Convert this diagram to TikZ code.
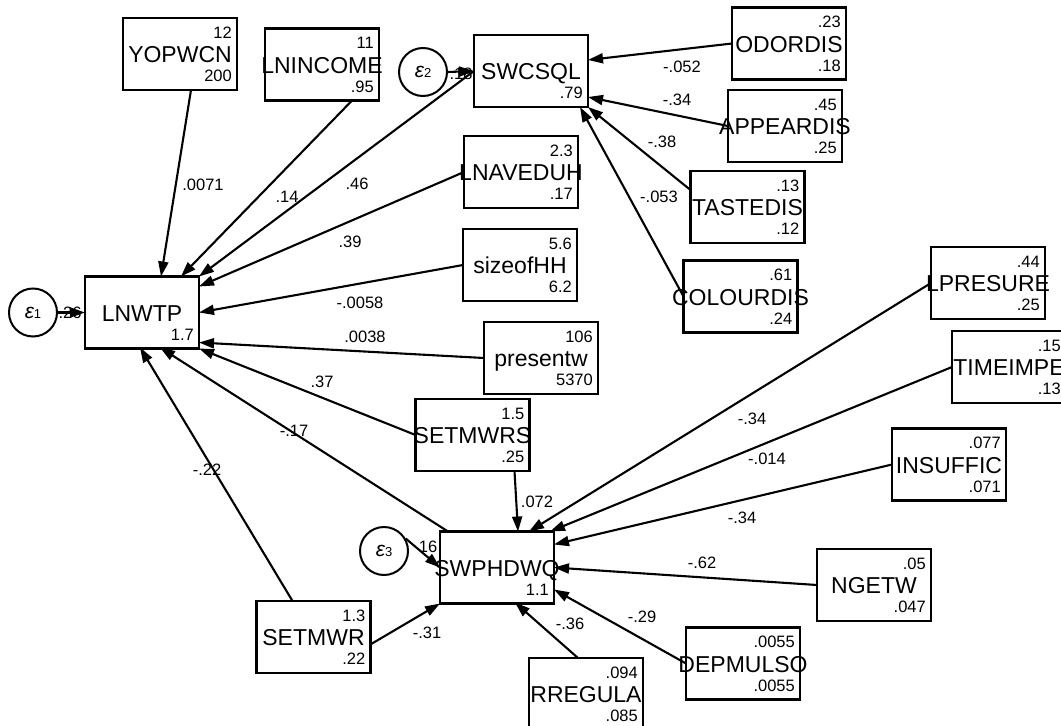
\documentclass[tikz,border=0pt]{standalone}
\usepackage{fontspec}
\setmainfont{Liberation Sans}
\usetikzlibrary{arrows.meta,calc}
\tikzset{
 box/.style={draw, line width=2.3pt, minimum width=114pt, minimum height=72pt, inner sep=0pt, outer sep=0pt},
 lab/.style={font=\fontsize{23}{23}\selectfont, inner sep=0pt, anchor=base},
 num/.style={font=\fontsize{16.5}{16.5}\selectfont, inner sep=0pt, anchor=base east},
 coef/.style={font=\fontsize{16.5}{16.5}\selectfont, inner sep=0pt},
 err/.style={draw, circle, line width=2pt, minimum size=48pt, inner sep=0pt},
 arr/.style={line width=2.1pt, -{Triangle[length=15pt,width=10pt]}},
}
\newcommand\obsbox[6]{%
 \node[box] (#1) at (#2,#3) {};
 \node[lab] (#1-l) at ($(#1.center)+(0,8.5)$) {#4};
 \node[num] (#1-t) at ($(#1.north east)+(-5,20)$) {#5};
 \node[num] (#1-b) at ($(#1.south east)+(-5,-8.5)$) {#6};
}
\newcommand\latbox[5]{%
 \node[box] (#1) at (#2,#3) {};
 \node[lab] (#1-l) at ($(#1.center)+(0,8.5)$) {#4};
 \node[num] (#1-b) at ($(#1.south east)+(-5,-8.5)$) {#5};
}
\newcommand\epsl[1]{{\fontsize{21}{21}\selectfont\itshape ε}{\fontsize{13}{13}\selectfont #1}}
\begin{document}
\begin{tikzpicture}[x=1pt,y=-1pt]
\clip (0,0) rectangle (1061,726);
\fill[white] (0,0) rectangle (1061,726);
% boxes
\obsbox{yop}{180}{54}{YOPWCN}{12}{200}
\obsbox{lninc}{322}{64.5}{LNINCOME}{11}{.95}
\latbox{swcsql}{531}{71}{SWCSQL}{.79}
\obsbox{lnav}{521}{172}{LNAVEDUH}{2.3}{.17}
\obsbox{odor}{789}{43.5}{ODORDIS}{.23}{.18}
\obsbox{appear}{785}{126}{APPEARDIS}{.45}{.25}
\obsbox{taste}{747.5}{207}{TASTEDIS}{.13}{.12}
\obsbox{colour}{740.5}{296.5}{COLOURDIS}{.61}{.24}
\obsbox{lpres}{988}{283}{LPRESURE}{.44}{.25}
\obsbox{timei}{1009}{367}{TIMEIMPE}{.15}{.13}
\obsbox{insuf}{949}{464.5}{INSUFFIC}{.077}{.071}
\obsbox{size}{520}{265}{sizeofHH}{5.6}{6.2}
\obsbox{present}{541}{358}{presentw}{106}{5370}
\obsbox{setmwrs}{472.5}{435}{SETMWRS}{1.5}{.25}
\latbox{lnwtp}{142}{312.5}{LNWTP}{1.7}
\latbox{swph}{497}{567.5}{SWPHDWQ}{1.1}
\obsbox{setmwr}{313.5}{637}{SETMWR}{1.3}{.22}
\obsbox{rreg}{586}{694}{RREGULA}{.094}{.085}
\obsbox{depm}{743}{663.5}{DEPMULSO}{.0055}{.0055}
\obsbox{ngetw}{874}{585}{NGETW}{.05}{.047}
% error terms
\node[err] (e1) at (33,312.5) {\epsl{1}};
\node[err] (e2) at (423,72) {\epsl{2}};
\node[err] (e3) at (384,551) {\epsl{3}};
% paths to LNWTP
\draw[arr] ($(yop.north west)+(68,72)$) -- ($(lnwtp.north west)+(76,0)$);
\draw[arr] ($(lninc.north west)+(88,71)$) -- ($(lnwtp.north west)+(96,0)$);
\draw[arr] (swcsql.west) -- (lnwtp.north east);
\draw[arr] (lnav.west) -- ($(lnwtp.north west)+(114,10)$);
\draw[arr] (size.west) -- (lnwtp.east);
\draw[arr] (present.west) -- ($(lnwtp.north west)+(114,66)$);
\draw[arr] (setmwrs.west) -- (lnwtp.south east);
\draw[arr] ($(swph.north west)+(8,0)$) -- ($(lnwtp.north west)+(75,71)$);
\draw[arr] ($(setmwr.north west)+(36,0)$) -- ($(lnwtp.north west)+(55,71)$);
\draw[arr] (e1.east) -- (lnwtp.west);
% paths to SWCSQL
\draw[arr] (odor.west) -- ($(swcsql.north west)+(114,25)$);
\draw[arr] (appear.west) -- ($(swcsql.north west)+(114,62)$);
\draw[arr] ($(taste.north west)+(0,19)$) -- (swcsql.south east);
\draw[arr] (colour.west) -- ($(swcsql.north west)+(106,72)$);
\draw[arr] (e2.east) -- (swcsql.west);
% paths to SWPHDWQ
\draw[arr] ($(setmwrs.north west)+(99,72)$) -- ($(swph.north west)+(78,0)$);
\draw[arr] (lpres.west) -- ($(swph.north west)+(89,0)$);
\draw[arr] (timei.west) -- ($(swph.north west)+(110,0)$);
\draw[arr] (insuf.west) -- ($(swph.north west)+(114,13)$);
\draw[arr] (ngetw.west) -- (swph.east);
\draw[arr] (depm.west) -- ($(swph.north west)+(114,58)$);
\draw[arr] ($(rreg.north west)+(49,0)$) -- ($(swph.north west)+(75,71)$);
\draw[arr] ($(setmwr.north west)+(113,44)$) -- (swph.south west);
\draw[arr] (e3.30) -- (swph.west);
% coefficients
\node[coef] (c1) at (203,185) {.0071};
\node[coef] (c2) at (287,197) {.14};
\node[coef] (c3) at (357,184) {.46};
\node[coef] (c4) at (350,242) {.39};
\node[coef] (c5) at (360,303) {-.0058};
\node[coef] (c6) at (365,337) {.0038};
\node[coef] (c7) at (322,382) {.37};
\node[coef] (c8) at (294,431) {-.17};
\node[coef] (c9) at (207,470) {-.22};
\node[coef] (c10) at (682,67) {-.052};
\node[coef] (c11) at (677,100) {-.34};
\node[coef] (c12) at (662,142) {-.38};
\node[coef] (c13) at (659,197) {-.053};
\node[coef] (c14) at (537,502) {.072};
\node[coef] (c15) at (752,419) {-.34};
\node[coef] (c16) at (767,459) {-.014};
\node[coef] (c17) at (742,518) {-.34};
\node[coef] (c18) at (702,563) {-.62};
\node[coef] (c19) at (642,617) {-.29};
\node[coef] (c20) at (570,624) {-.36};
\node[coef] (c21) at (427,633) {-.31};
\node[coef] (c22) at (70,313) {.26};
\node[coef] (c23) at (461,74) {.18};
\node[coef] (c24) at (428,547) {16};
\end{tikzpicture}
\end{document}
